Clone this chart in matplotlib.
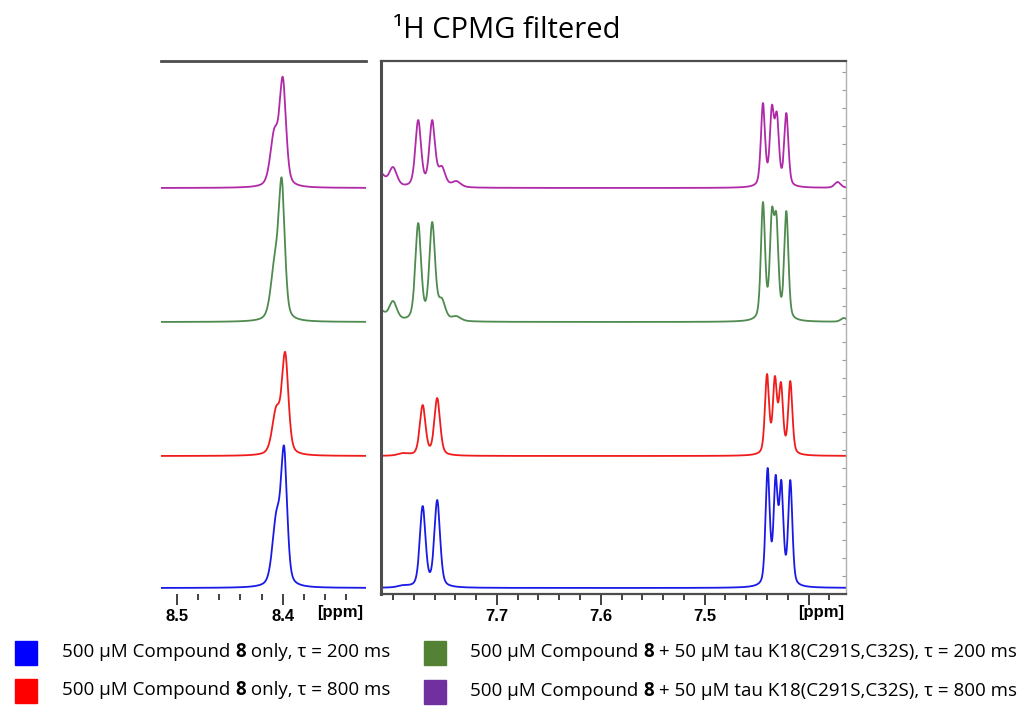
import numpy as np
import matplotlib
matplotlib.use('Agg')
import matplotlib.pyplot as plt
from matplotlib.patches import Rectangle
from matplotlib.ticker import MultipleLocator, FixedLocator

FONT = ['Open Sans', 'DejaVu Sans']
TICKFONT = 'Liberation Sans'

# ── Values (traces listed top to bottom) ──────────────────────────────
colors    = ['#b02aa8', '#4f8a4f', '#f01c1c', '#1a1ae6']
baselines = [406, 272, 138, 6]          # vertical offset of each trace (a.u.)

# left panel: line near 8.40 ppm with shoulder
left_ppm    = [[8.4080, 8.4000], [8.4075, 8.4010], [8.4062, 8.3978], [8.4060, 8.3988]]
left_height = [[60, 111], [70, 144], [50, 104], [78, 142]]
left_fwhm   = [[0.009, 0.0072], [0.009, 0.0068], [0.009, 0.0072], [0.009, 0.0068]]

# right panel: doublet near 7.77 ppm
dbl_ppm    = [[7.7757, 7.7622], [7.7757, 7.7622], [7.7714, 7.7574], [7.7714, 7.7574]]
dbl_height = [[68, 68], [99, 100], [51, 58], [82, 88]]

# right panel: four-line multiplet near 7.43 ppm
quart_ppm    = [[7.4439, 7.4353, 7.4305, 7.4214], [7.4439, 7.4353, 7.4310, 7.4214],
                [7.4400, 7.4324, 7.4266, 7.4176], [7.4394, 7.4317, 7.4262, 7.4176]]
quart_height = [[85, 83, 76, 75], [120, 114, 109, 111],
                [82, 80, 74, 75], [120, 113, 108, 108]]

# small humps (ppm, height, fwhm)
bump_ppm    = [[7.812, 7.800, 7.753, 7.739, 7.372], [7.812, 7.800, 7.753, 7.739, 7.366],
               [7.790], [7.790]]
bump_height = [[15, 21, 22, 7, 6], [12, 21, 24, 6, 4], [3], [3]]
bump_fwhm   = [[0.010, 0.009, 0.008, 0.010, 0.007], [0.010, 0.009, 0.008, 0.010, 0.007],
               [0.012], [0.012]]

legend_labels = [
    [('500 µM Compound ', 'normal'), ('8', 'bold'), (' only, τ = 200 ms', 'normal')],
    [('500 µM Compound ', 'normal'), ('8', 'bold'), (' only, τ = 800 ms', 'normal')],
    [('500 µM Compound ', 'normal'), ('8', 'bold'), (' + 50 µM tau K18(C291S,C32S), τ = 200 ms', 'normal')],
    [('500 µM Compound ', 'normal'), ('8', 'bold'), (' + 50 µM tau K18(C291S,C32S), τ = 800 ms', 'normal')],
]
legend_colors = ['#0000ff', '#ff0000', '#548235', '#7030a0']


def spectrum(x, ppm, height, fwhm, eta=0.4):
    # pseudo-Voigt lines, amplitudes solved so the trace hits the read heights
    ppm = np.asarray(ppm, float)
    hw = np.asarray(fwhm, float) / 2

    def basis(xx):
        d = (np.asarray(xx, float)[:, None] - ppm[None, :]) / hw[None, :]
        return eta / (1 + d ** 2) + (1 - eta) * np.exp(-np.log(2) * d ** 2)

    amp = np.linalg.solve(basis(ppm), np.asarray(height, float))
    return basis(x) @ amp


fig = plt.figure(figsize=(10.33, 7.06), dpi=100)
W, H = 1033, 706


def px_axes(x0, y0, x1, y1):
    return fig.add_axes([x0 / W, 1 - y1 / H, (x1 - x0) / W, (y1 - y0) / H])


axL = px_axes(161, 61, 366, 594)
axR = px_axes(381, 61, 846, 594)

xL = np.linspace(8.31, 8.53, 1500)
xR = np.linspace(7.355, 7.82, 3000)

for i, c in enumerate(colors):
    yl = spectrum(xL, left_ppm[i], left_height[i], left_fwhm[i])
    axL.plot(xL, yl + baselines[i], color=c, lw=1.3)

    p = dbl_ppm[i] + quart_ppm[i] + bump_ppm[i]
    h = dbl_height[i] + quart_height[i] + bump_height[i]
    w = [0.0065] * 2 + [0.0047] * 4 + bump_fwhm[i]
    yr = spectrum(xR, p, h, w)
    axR.plot(xR, yr + baselines[i], color=c, lw=1.3)

for ax in (axL, axR):
    ax.set_ylim(0, 533)
    ax.xaxis.set_minor_locator(MultipleLocator(0.02))
    ax.tick_params(axis='x', which='major', direction='out', length=8, width=1.3,
                   color='#333333', pad=3, labelsize=12)
    ax.tick_params(axis='x', which='minor', direction='out', length=4.5, width=1.3,
                   color='#333333')

axL.set_xlim(8.515, 8.3215)
axL.xaxis.set_major_locator(FixedLocator([8.5, 8.4]))
axL.set_xticklabels(['8.5', '8.4'], fontweight='bold', family=TICKFONT)
axL.set_yticks([])
for s in ('left', 'right', 'bottom'):
    axL.spines[s].set_visible(False)
axL.spines['top'].set_color('#4d4d4d')
axL.spines['top'].set_linewidth(2)

axR.set_xlim(7.8115, 7.364)
axR.xaxis.set_major_locator(FixedLocator([7.7, 7.6, 7.5, 7.4]))
axR.set_xticklabels(['7.7', '7.6', '7.5', ''], fontweight='bold', family=TICKFONT)
axR.yaxis.set_ticks_position('right')
axR.yaxis.set_major_locator(MultipleLocator(18))
axR.tick_params(axis='y', direction='in', length=3, width=0.8, color='#999999',
                labelright=False)
axR.spines['left'].set_color('#4d4d4d')
axR.spines['left'].set_linewidth(2.2)
axR.spines['top'].set_color('#4d4d4d')
axR.spines['top'].set_linewidth(1.6)
axR.spines['bottom'].set_color('#4d4d4d')
axR.spines['bottom'].set_linewidth(1.6)
axR.spines['right'].set_color('#b0b0b0')
axR.spines['right'].set_linewidth(1)

fig.text(340 / W, 1 - 612 / H, '[ppm]', fontsize=12, fontweight='bold',
         family=TICKFONT, ha='center', va='center')
fig.text(844 / W, 1 - 612 / H, '[ppm]', fontsize=12, fontweight='bold',
         family=TICKFONT, ha='right', va='center')

fig.text(507 / W, 1 - 31 / H, '¹H CPMG filtered', fontsize=21, family=FONT,
         ha='center', va='center')

# legend: coloured squares and mixed-weight labels
sq = [(15, 641), (15, 679), (424, 641), (424, 680)]
tx = [(62, 652), (62, 690), (470, 652), (470, 691)]
renderer = fig.canvas.get_renderer()
for (sx, sy), (lx, ly), col, parts in zip(sq, tx, legend_colors, legend_labels):
    fig.patches.append(Rectangle((sx / W, 1 - (sy + 24) / H), 22 / W, 24 / H,
                                 transform=fig.transFigure, color=col))
    x = lx / W
    for s, wt in parts:
        t = fig.text(x, 1 - ly / H, s, fontsize=13.5, fontweight=wt, family=FONT,
                     ha='left', va='center')
        bb = t.get_window_extent(renderer).transformed(fig.transFigure.inverted())
        x = bb.x1

fig.savefig('out.png', dpi=100)
